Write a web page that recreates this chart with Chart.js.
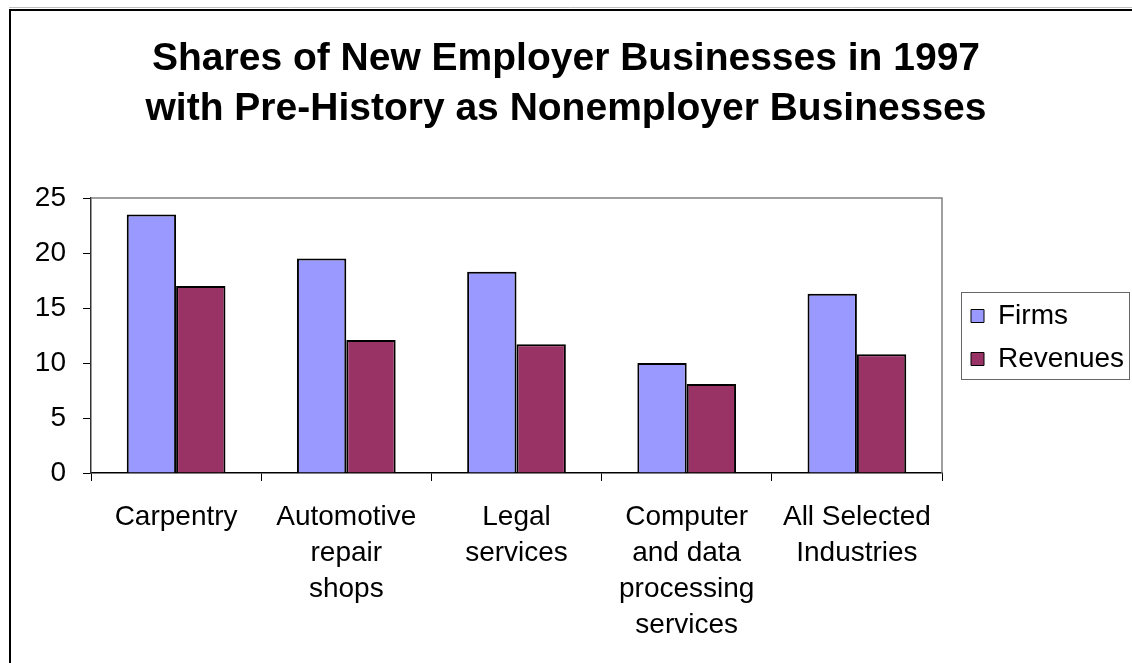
<!DOCTYPE html>
<html>
<head>
<meta charset="utf-8">
<script src="https://cdn.jsdelivr.net/npm/chart.js@4/dist/chart.umd.min.js"></script>
<style>
  body { margin: 0; background: #fff; }
  canvas { display: block; }
</style>
</head>
<body>
<canvas id="chart" width="1132" height="663"></canvas>
<script>
// chart data
const categories = [
  "Carpentry",
  ["Automotive", "repair", "shops"],
  ["Legal", "services"],
  ["Computer", "and data", "processing", "services"],
  ["All Selected", "Industries"]
];
const firms = [23.5, 19.5, 18.3, 10.0, 16.3];
const revenues = [17.0, 12.1, 11.7, 8.1, 10.8];
const yTicks = [0, 5, 10, 15, 20, 25];

const FONT = "Arial, 'Liberation Sans', sans-serif";

// outer frame + plot border + legend frame
const framePlugin = {
  id: "frames",
  afterDraw(chart) {
    const ctx = chart.ctx;
    const a = chart.chartArea;
    ctx.save();
    // outer frame (cut off at right/bottom)
    ctx.strokeStyle = "#c0c0c0";
    ctx.lineWidth = 1;
    ctx.beginPath();
    ctx.moveTo(9, 7.5);
    ctx.lineTo(chart.width, 7.5);
    ctx.stroke();
    ctx.strokeStyle = "#000";
    ctx.lineWidth = 2;
    ctx.beginPath();
    ctx.moveTo(10, chart.height);
    ctx.lineTo(10, 10);
    ctx.lineTo(chart.width, 10);
    ctx.stroke();
    // plot area top and right edges
    ctx.strokeStyle = "#808080";
    ctx.lineWidth = 1.5;
    ctx.beginPath();
    ctx.moveTo(a.left, a.top);
    ctx.lineTo(a.right, a.top);
    ctx.lineTo(a.right, a.bottom);
    ctx.stroke();
    // legend frame
    const hb = chart.legend.legendHitBoxes;
    if (hb && hb.length) {
      const first = hb[0], last = hb[hb.length - 1];
      const x0 = first.left - 10;
      const y0 = first.top - 10;
      const y1 = last.top + last.height + 6;
      ctx.strokeStyle = "#666";
      ctx.lineWidth = 1;
      ctx.strokeRect(Math.round(x0) + 0.5, Math.round(y0) + 0.5, chart.width - 3 - Math.round(x0), Math.round(y1 - y0));
    }
    ctx.restore();
  }
};

new Chart(document.getElementById("chart"), {
  type: "bar",
  data: {
    labels: categories,
    datasets: [
      {
        label: "Firms",
        data: firms,
        backgroundColor: "#9999FF",
        borderColor: "#000",
        borderWidth: 2
      },
      {
        label: "Revenues",
        data: revenues,
        backgroundColor: "#993366",
        borderColor: "#000",
        borderWidth: 2
      }
    ]
  },
  options: {
    responsive: false,
    animation: false,
    layout: { padding: { left: 0, right: 0, top: 0, bottom: 0 } },
    datasets: {
      bar: { categoryPercentage: 0.58, barPercentage: 1.0 }
    },
    plugins: {
      title: {
        display: true,
        text: ["Shares of New Employer Businesses in 1997", "with Pre-History as Nonemployer Businesses"],
        color: "#000",
        font: { family: FONT, size: 39, weight: "bold", lineHeight: 50 / 39 },
        padding: { top: 34, bottom: 64 }
      },
      legend: {
        position: "right",
        maxWidth: 176,
        // empty title only pushes the items down a little
        title: { display: true, text: "", padding: 0, font: { size: 12, lineHeight: 1 } },
        labels: {
          color: "#000",
          font: { family: FONT, size: 28 },
          boxWidth: 13,
          boxHeight: 13,
          padding: 15,
          generateLabels(chart) {
            const items = Chart.defaults.plugins.legend.labels.generateLabels(chart);
            items.forEach(it => { it.lineWidth = 1; });
            return items;
          }
        }
      },
      tooltip: { enabled: false }
    },
    scales: {
      x: {
        grid: { drawOnChartArea: false, color: "#000", tickLength: 8 },
        border: { color: "#000", width: 1.5 },
        ticks: {
          color: "#000",
          font: { family: FONT, size: 28, lineHeight: 36 / 28 },
          maxRotation: 0,
          autoSkip: false,
          padding: 18
        },
        afterFit(scale) { scale.height = 190; }
      },
      y: {
        min: 0,
        max: 25,
        grid: { drawOnChartArea: false, color: "#000", tickLength: 8 },
        border: { color: "#333", width: 1.5 },
        afterBuildTicks(scale) { scale.ticks = yTicks.map(v => ({ value: v })); },
        ticks: {
          color: "#000",
          font: { family: FONT, size: 28 },
          padding: 17
        },
        afterFit(scale) { scale.width = 91; }
      },
      // spacer between plot area and legend
      gap: {
        type: "linear",
        position: "right",
        display: true,
        grid: { display: false },
        border: { display: false },
        ticks: { display: false },
        afterFit(scale) { scale.width = 14; }
      }
    }
  },
  plugins: [framePlugin]
});
</script>
</body>
</html>
